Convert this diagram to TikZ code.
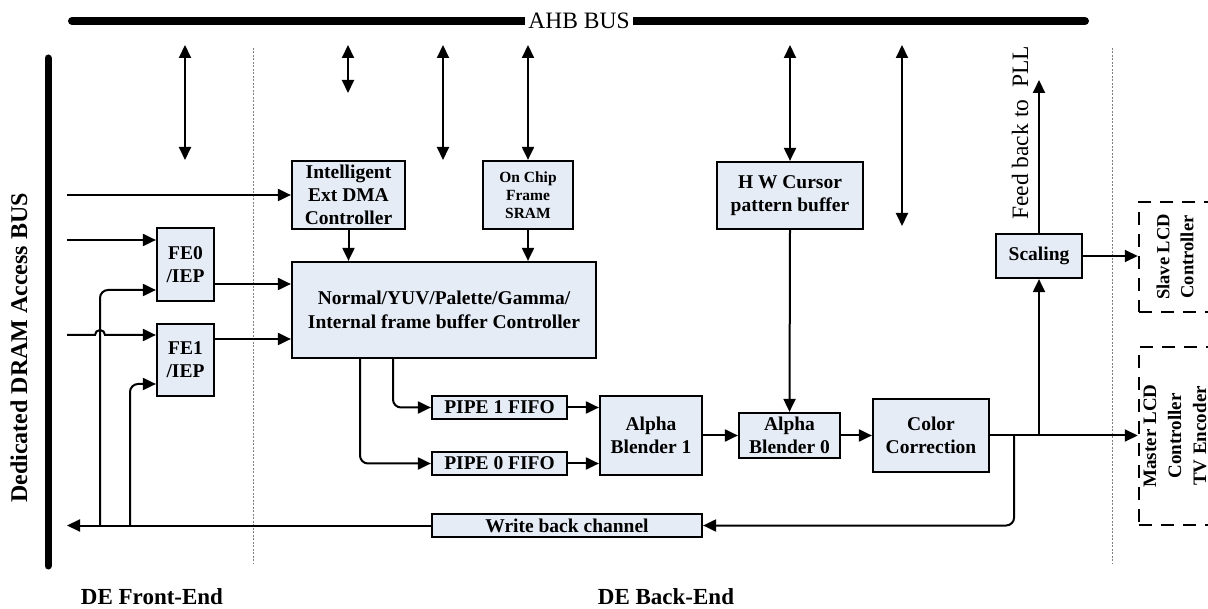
\documentclass[tikz,border=0pt]{standalone}
\usepackage{fontspec}
\setmainfont{Liberation Serif}
\usetikzlibrary{arrows.meta,positioning}
\definecolor{boxfill}{RGB}{230,236,246}

\begin{document}
\begin{tikzpicture}[x=1pt, y=-1pt,
  every node/.style={font=\fontsize{19.5}{23}\selectfont\bfseries, align=center, inner sep=0pt},
  blk/.style={draw, line width=2.2pt, fill=boxfill},
  lcd/.style={draw, line width=2.5pt, dash pattern=on 13pt off 9pt},
  flow/.style={-{Triangle[length=13pt,width=12pt]}, line width=2pt},
  twoway/.style={{Triangle[length=13pt,width=12pt]}-{Triangle[length=13pt,width=12pt]}, line width=2pt},
  sep/.style={gray, line width=0.8pt, dash pattern=on 2pt off 1.5pt},
  bus/.style={line width=8pt, line cap=round}]
  \clip (0,0) rectangle (1208,609);

  % buses
  \draw[bus] (72,21) -- (1085,21);
  \node[fill=white, inner xsep=3pt, font=\fontsize{23.5}{28}\selectfont] (ahb) at (579,21) {AHB BUS};
  \draw[bus, line width=7pt] (48,58) -- (48,566);
  \node[font=\fontsize{24}{28}\selectfont\bfseries, rotate=90] (dram) at (19,348) {Dedicated DRAM Access BUS};

  % front-end / back-end borders
  \draw[sep] (253,48) -- (253,563);
  \draw[sep] (1112,48) -- (1112,563);

  % blocks
  \node[blk, minimum width=113pt, minimum height=68pt] (dma) at (348.5,195) {Intelligent\\Ext DMA\\Controller};
  \node[blk, minimum width=90pt, minimum height=68pt, font=\fontsize{15.5}{18}\selectfont\bfseries] (sram) at (528,195) {On Chip\\Frame\\SRAM};
  \node[blk, minimum width=146pt, minimum height=67pt] (cursor) at (790,195.5) {H W Cursor\\pattern buffer};
  \node[blk, minimum width=304pt, minimum height=96pt, font=\fontsize{19.5}{24}\selectfont\bfseries] (ctrl) at (444,310) {Normal/YUV/Palette/Gamma/\\Internal frame buffer Controller};
  \node[blk, minimum width=57pt, minimum height=73pt] (fe0) at (185.5,264.5) {FE0\\/IEP};
  \node[blk, minimum width=57pt, minimum height=72pt] (fe1) at (185.5,360) {FE1\\/IEP};
  \node[blk, minimum width=135pt, minimum height=23pt] (pipeA) at (499.5,407.5) {PIPE 1 FIFO};
  \node[blk, minimum width=135pt, minimum height=23pt] (pipeB) at (499.5,463.5) {PIPE 0 FIFO};
  \node[blk, minimum width=102pt, minimum height=79pt] (blendA) at (651,435.5) {Alpha\\Blender 1};
  \node[blk, minimum width=101pt, minimum height=45pt] (blendB) at (789.5,435.5) {Alpha\\Blender 0};
  \node[blk, minimum width=116pt, minimum height=73pt] (cc) at (931,435.5) {Color\\Correction};
  \node[blk, minimum width=270pt, minimum height=23pt] (wb) at (567,525.5) {Write back channel};
  \node[blk, minimum width=86pt, minimum height=44pt] (scal) at (1039,256) {Scaling};
  \node[lcd, minimum width=72pt, minimum height=110pt,
    label={[rotate=90, font=\fontsize{18.5}{24}\selectfont\bfseries]center:Slave LCD\\Controller}] (slave) at (1175,257) {};
  \node[lcd, minimum width=72pt, minimum height=178pt,
    label={[rotate=90, font=\fontsize{19}{25}\selectfont\bfseries]center:Master LCD\\Controller\\TV Encoder}] (master) at (1175,436) {};

  % AHB links
  \foreach \n/\x/\y in {1/185/160, 2/348/93, 3/443/160, 4/902/226} {
    \coordinate (up\n) at (\x,45);
    \coordinate (dn\n) at (\x,\y);
    \draw[twoway] (up\n) -- (dn\n);
  }
  \coordinate (up5) at (528,45);
  \coordinate (up6) at (790,45);
  \draw[twoway] (up5) -- (sram.north);
  \draw[twoway] (up6) -- (cursor.north);

  % DRAM inputs
  \coordinate (in1) at (67,195);
  \coordinate (in2) at (67,240);
  \coordinate (in3) at (67,335);
  \draw[flow] (in1) -- (dma.west);
  \draw[flow] (in2) -- (in2 -| fe0.west);
  \draw[flow] (in3) -- (95,335) arc[start angle=180, end angle=0, radius=5pt] -- (in3 -| fe1.west);

  % front-end to controller
  \coordinate (f0) at ([yshift=-19.5pt]fe0.east);
  \coordinate (f1) at ([yshift=21pt]fe1.east);
  \draw[flow] (f0) -- (f0 -| ctrl.west);
  \draw[flow] (f1) -- (f1 -| ctrl.west);
  \draw[flow] (dma.south) -- (dma.south |- ctrl.north);
  \draw[flow] (sram.south) -- (sram.south |- ctrl.north);

  % back-end pipe
  \draw[flow, rounded corners=8pt] ([xshift=-51pt]ctrl.south) |- (pipeA.west);
  \draw[flow, rounded corners=8pt] ([xshift=-84pt]ctrl.south) |- (pipeB.west);
  \draw[flow] (pipeA.east) -- (pipeA.east -| blendA.west);
  \draw[flow] (pipeB.east) -- (pipeB.east -| blendA.west);
  \draw[flow] (blendA.east) -- (blendB.west);
  \draw[flow] (cursor.south) -- (blendB.north);
  \draw[flow] (blendB.east) -- (cc.west);
  \draw[flow] (cc.east) -- (cc.east -| master.west);
  \draw[flow] (cc.east -| scal.south) -- (scal.south);
  \draw[flow] (scal.east) -- (scal.east -| slave.west);

  % feedback to PLL
  \coordinate (pll) at (1039,80);
  \draw[flow] (scal.north) -- (pll);
  \node[font=\fontsize{23.5}{28}\selectfont, rotate=90] (fb) at (1020,133) {Feed back to\ \ PLL};

  % write back
  \coordinate (out) at (67,525.5);
  \coordinate (j0) at (100,525.5);
  \coordinate (j1) at (130,525.5);
  \draw[flow, rounded corners=8pt] ([xshift=24pt]cc.east) |- (wb.east);
  \draw[flow] (wb.west) -- (out);
  \draw[flow, rounded corners=8pt] (j0) |- ([yshift=-25.5pt]fe0.west);
  \draw[flow, rounded corners=8pt] (j1) |- ([yshift=-24pt]fe1.west);

  % section titles
  \node[font=\fontsize{23}{28}\selectfont\bfseries, anchor=base] (fe) at (152,604) {DE Front-End};
  \node[font=\fontsize{23}{28}\selectfont\bfseries, anchor=base] (be) at (666,604) {DE Back-End};
\end{tikzpicture}
\end{document}
